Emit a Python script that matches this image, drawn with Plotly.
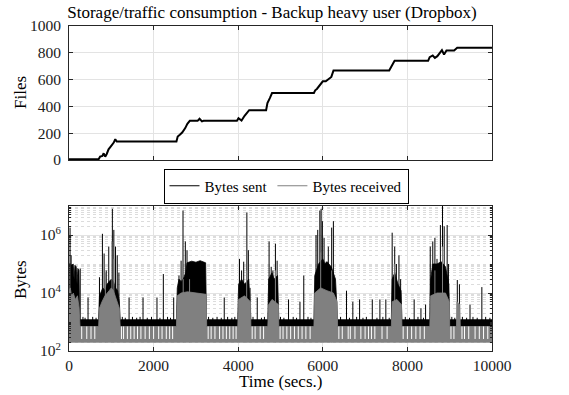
import plotly.graph_objects as go

# ---------------- data: top panel (cumulative files) ----------------
files_t = [0, 700, 735, 790, 820, 856, 892, 935, 985, 1022, 1058, 1094, 1130, 2540, 2570, 2620,
           2676, 2748, 2798, 2856, 3040, 3086, 3144, 3180, 3970, 4007, 4079, 4151, 4209, 4259,
           4660, 4691, 4748, 4800, 5790, 5820, 5860, 5928, 6000, 6070, 6144, 6202, 6253, 7570,
           7625, 7697, 8490, 8527, 8599, 8650, 8708, 8765, 8816, 8866, 8924, 9105, 9177, 10000]
files_n = [5, 6, 25, 30, 50, 25, 45, 80, 100, 112, 130, 155, 138, 138, 175, 188,
           205, 238, 270, 292, 292, 308, 288, 292, 292, 312, 295, 330, 355, 372,
           372, 425, 462, 500, 500, 520, 530, 562, 587, 587, 605, 620, 668, 668,
           700, 740, 740, 767, 780, 762, 775, 800, 820, 787, 818, 818, 838, 838]

# ---------------- data: bottom panel (bytes) ----------------
# Bytes sent: upper envelope of the dense trace
sent_env_t = [0, 40, 60, 100, 120, 140, 170, 190, 210, 235, 250,
              700, 720, 760, 800, 850, 900, 950, 1000, 1050, 1100, 1150, 1190, 1210,
              2540, 2560, 2600, 2650, 2700, 2760, 2790, 2900, 3000, 3100, 3230, 3250,
              3990, 4010, 4080, 4150, 4250, 4300,
              4700, 4720, 4800, 4850, 4930, 4960,
              5790, 5810, 5900, 6000, 6050, 6100, 6200, 6300, 6350,
              7620, 7640, 7700, 7780, 7850, 7870,
              8530, 8550, 8600, 8700, 8800, 8900, 8980, 9000,
              10000]
sent_env_v = [1.0e5, 1.0e5, 9e4, 1.0e5, 3e4, 9e4, 8e4, 2e4, 7e4, 6e4, 1.2e3,
              1.2e3, 8e3, 1.2e4, 1.5e4, 1.2e4, 2e4, 2.5e4, 3e4, 2.5e4, 1.5e4, 1.2e4, 5e3, 1.2e3,
              1.2e3, 1.5e4, 3e4, 2.5e4, 3e4, 5e4, 1.1e5, 1.25e5, 1.15e5, 1.3e5, 1.1e5, 1.2e3,
              1.2e3, 2e4, 3e4, 2e4, 3e4, 1.2e3,
              1.2e3, 3e4, 5e4, 3e4, 4e4, 1.2e3,
              1.2e3, 4e4, 1e5, 1.5e5, 1e5, 1.2e5, 8e4, 3e4, 1.2e3,
              1.2e3, 3e4, 5e4, 2e4, 1.2e4, 1.2e3,
              1.2e3, 3e4, 1e5, 1e5, 1.2e5, 8e4, 2e4, 1.2e3,
              1.2e3]
sent_floor = 700

sent_spike_t = [25, 50, 265, 450,
                720, 790, 830, 880, 940, 1025, 1060, 1100, 1140, 1180,
                1420, 1750, 2080, 2230, 2475,
                2600, 2650, 2695, 2750, 2790,
                3670,
                4030, 4080, 4130, 4205, 4240, 4280,
                4450,
                4730, 4780, 4820, 4880, 4920,
                5190, 5460, 5550,
                5840, 5880, 5930, 5960, 5990, 6030, 6080, 6130, 6210, 6250, 6300,
                6560, 6710, 6870, 7170, 7350, 7490,
                7640, 7700, 7740, 7800, 7840,
                8160, 8320, 8430,
                8540, 8600, 8650, 8700, 8780, 8830, 8870, 8940, 8970,
                9180, 9230, 9480, 9760,
                330, 380, 560, 640, 1260, 1330, 1500, 1600, 1680, 1850, 1950, 2150, 2330, 2400,
                3300, 3400, 3500, 3600, 3750, 3850, 3920, 4350, 4550, 4620, 5000, 5080, 5300,
                5380, 5650, 5720, 6420, 6630, 6800, 6950, 7030, 7280, 7420, 7570, 7950, 8050,
                8250, 8380, 9050, 9120, 9300, 9400, 9550, 9650, 9850, 9950]
sent_spike_v = [1.8e6, 2e5, 7e4, 7e3,
                3.5e4, 1.1e6, 2.3e5, 6e4, 4e5, 8e6, 1.5e6, 4e5, 2e5, 5e4,
                7e3, 7e3, 7e3, 4.5e4, 7e3,
                4e4, 1.3e5, 7e6, 6e5, 3e5,
                7e3,
                1.5e5, 6e4, 1.2e5, 6e6, 3e5, 1.5e4,
                7e3,
                6e5, 8e4, 6e4, 5e5, 1.3e5,
                6e3, 5e3, 4e4,
                1e6, 1.5e6, 7e6, 8e6, 3e6, 8e5, 1.2e5, 4e5, 1.8e6, 3e6, 1.5e4,
                1.2e4, 5e3, 6e3, 6e3, 6e3, 6e3,
                1.2e6, 4e5, 1e5, 2e5, 3e4,
                6e3, 3e3, 4e3,
                4e5, 6e5, 8e5, 1.5e5, 2.2e6, 1e7, 2e6, 2.2e6, 1e5,
                2.8e4, 2e4, 4e3, 1.6e4,
                1.5e3, 1.4e3, 1.5e3, 1.4e3, 1.5e3, 1.4e3, 1.5e3, 1.4e3, 1.5e3, 1.4e3, 1.5e3, 1.4e3, 1.5e3, 1.4e3,
                1.5e3, 1.4e3, 1.5e3, 1.4e3, 1.5e3, 1.4e3, 1.5e3, 1.5e3, 1.4e3, 1.5e3, 1.5e3, 1.4e3, 1.5e3,
                1.4e3, 1.5e3, 1.4e3, 1.5e3, 1.4e3, 1.5e3, 1.4e3, 1.5e3, 1.4e3, 1.5e3, 1.4e3, 1.5e3, 1.4e3,
                1.5e3, 1.4e3, 1.5e3, 1.4e3, 1.5e3, 1.4e3, 1.5e3, 1.4e3, 1.5e3, 1.4e3]

# Bytes received: upper envelope of the dense trace
recv_env_t = [0, 30, 60, 100, 150, 200, 240, 260,
              700, 720, 780, 850, 950, 1000, 1050, 1120, 1190, 1210,
              2540, 2560, 2650, 2800, 3000, 3240, 3255,
              3990, 4010, 4150, 4290, 4300,
              4700, 4720, 4800, 4950, 4960,
              5790, 5810, 5950, 6100, 6250, 6340, 6350,
              7620, 7640, 7750, 7860, 7870,
              8530, 8550, 8700, 8900, 8990, 9000,
              9160, 9170, 9240, 9250,
              10000]
recv_env_v = [1.2e4, 1.5e4, 8e3, 1e4, 6e3, 8e3, 3e3, 700,
              700, 3e3, 5e3, 8e3, 1.2e4, 1.5e4, 1.2e4, 6e3, 3e3, 700,
              700, 8e3, 1e4, 1.1e4, 1e4, 9e3, 700,
              700, 6e3, 8e3, 5e3, 700,
              700, 4e3, 6e3, 4e3, 700,
              700, 1e4, 1.5e4, 1.2e4, 1e4, 5e3, 700,
              700, 5e3, 6e3, 4e3, 700,
              700, 8e3, 1e4, 1e4, 5e3, 700,
              700, 5e3, 4e3, 700,
              700]
recv_floor = 200

recv_spike_t = [20, 860, 1015, 1060, 2700, 2850, 4200, 4880, 5950, 6210, 7700, 8650, 8830]
recv_spike_v = [1e5, 5e4, 6e5, 1.5e5, 3e4, 3e4, 6e4, 6e4, 2.5e5, 6e4, 1e5, 6e4, 4e5]

# moments where received traffic dips (white gaps in the grey band)
recv_dip_t = [300, 420, 520, 610, 1240, 1290, 1380, 1460, 1540, 1620, 1700, 1800, 1900, 2000,
              2120, 2200, 2300, 2380, 2450, 3290, 3360, 3450, 3560, 3640, 3720, 3800, 3880,
              3950, 4330, 4400, 4520, 4600, 4990, 5060, 5150, 5240, 5330, 5420, 5510, 5600,
              5700, 6380, 6460, 6600, 6650, 6760, 6900, 7000, 7080, 7150, 7230, 7400, 7520,
              7900, 8000, 8100, 8200, 8300, 8400, 9030, 9100, 9290, 9350, 9450, 9600, 9700,
              9800, 9900]
recv_dip_v = 260

x_ticks = [0, 2000, 4000, 6000, 8000, 10000]
x_ticktext = ["0", "2000", "4000", "6000", "8000", "10000"]
files_ticks = [0, 200, 400, 600, 800, 1000]
bytes_ticks = [1e2, 1e4, 1e6]
bytes_ticktext = ["10<sup>2</sup>", "10<sup>4</sup>", "10<sup>6</sup>"]
bytes_odd_decades = [1e3, 1e5, 1e7]

# ---------------- figure ----------------
FONT = "Liberation Serif"
AX = "#262626"
GRID = "#e3e3e3"
GREY = "#808080"
TICK_SIZE = 15.5
LABEL_SIZE = 17

fig = go.Figure()

fig.add_trace(go.Scatter(x=files_t, y=files_n, mode="lines",
                         line=dict(color="black", width=2),
                         showlegend=False, xaxis="x", yaxis="y"))


def band(ts, vs, floor, color, width):
    xs = list(ts) + list(ts)[::-1]
    ys = list(vs) + [floor] * len(ts)
    return go.Scatter(x=xs, y=ys, mode="lines", fill="toself", fillcolor=color,
                      line=dict(color=color, width=width), showlegend=False,
                      hoverinfo="skip", xaxis="x2", yaxis="y2")


def stems(ts, vs, base, color, width, name=None, legend=False):
    xs, ys = [], []
    for t, v in zip(ts, vs):
        xs += [t, t, None]
        ys += [base, v, None]
    return go.Scatter(x=xs, y=ys, mode="lines", line=dict(color=color, width=width),
                      name=name, showlegend=legend, hoverinfo="skip",
                      xaxis="x2", yaxis="y2")


fig.add_trace(band(sent_env_t, sent_env_v, sent_floor, "black", 0.8))
fig.add_trace(stems(sent_spike_t, sent_spike_v, sent_floor, "black", 1,
                    name="Bytes sent", legend=True))
fig.add_trace(band(recv_env_t, recv_env_v, recv_floor, GREY, 0.8))
fig.add_trace(stems(recv_spike_t, recv_spike_v, recv_floor, GREY, 1,
                    name="Bytes received", legend=True))
fig.add_trace(stems(recv_dip_t, [sent_floor] * len(recv_dip_t), recv_dip_v, "white", 1))

W, H = 569, 395
x0, x1 = 69 / W, 492 / W
axis_common = dict(showline=True, linecolor=AX, linewidth=1, mirror="ticks",
                   ticks="inside", ticklen=4, tickcolor=AX, zeroline=False,
                   showgrid=True, gridcolor=GRID, gridwidth=1, automargin=False,
                   tickfont=dict(family=FONT, size=TICK_SIZE, color="#1a1a1a"))


def label(text, x, y, angle=0):
    return dict(text=text, x=x / W, y=1 - y / H, xref="paper", yref="paper",
                xanchor="center", yanchor="middle", textangle=angle, showarrow=False,
                font=dict(family=FONT, size=LABEL_SIZE, color="black"))


fig.update_layout(
    width=W, height=H,
    margin=dict(l=0, r=0, t=0, b=0, pad=0, autoexpand=False),
    paper_bgcolor="white", plot_bgcolor="white",
    font=dict(family=FONT, size=TICK_SIZE, color="black"),
    title=dict(text="Storage/traffic consumption - Backup heavy user (Dropbox)",
               x=272 / W, y=1 - 12 / H, xanchor="center", yanchor="middle",
               automargin=False,
               font=dict(family=FONT, size=17, color="black")),
    xaxis=dict(domain=[x0, x1], range=[0, 10000], tickvals=x_ticks,
               showticklabels=False, anchor="y", **axis_common),
    yaxis=dict(domain=[1 - 160 / H, 1 - 26 / H], range=[0, 1000], tickvals=files_ticks,
               anchor="x", ticklabelstandoff=4, **axis_common),
    xaxis2=dict(domain=[x0, x1], range=[0, 10000], tickvals=x_ticks, ticktext=x_ticktext,
                anchor="y2", ticklabelstandoff=0, **axis_common),
    yaxis2=dict(domain=[1 - 351 / H, 1 - 206 / H], type="log", range=[2, 7],
                tickvals=bytes_ticks, ticktext=bytes_ticktext, anchor="x2",
                ticklabelstandoff=4,
                minor=dict(tickvals=[m * 10 ** k for k in range(2, 7) for m in range(2, 10)]
                           + bytes_odd_decades,
                           ticks="inside", ticklen=2, tickcolor=AX,
                           showgrid=True, gridcolor="#dcdcdc", griddash="dot", gridwidth=1),
                **axis_common),
    legend=dict(orientation="h", x=286 / W, y=1 - 186 / H, xanchor="center",
                yanchor="middle", bordercolor="black", borderwidth=1, bgcolor="white",
                font=dict(family=FONT, size=15, color="black"),
                itemwidth=30, tracegroupgap=0),
    annotations=[
        label("Files", 20, 93, -90),
        label("Bytes", 20, 280, -90),
        label("Time (secs.)", 280, 381),
    ],
)

fig.write_html("out.html")
